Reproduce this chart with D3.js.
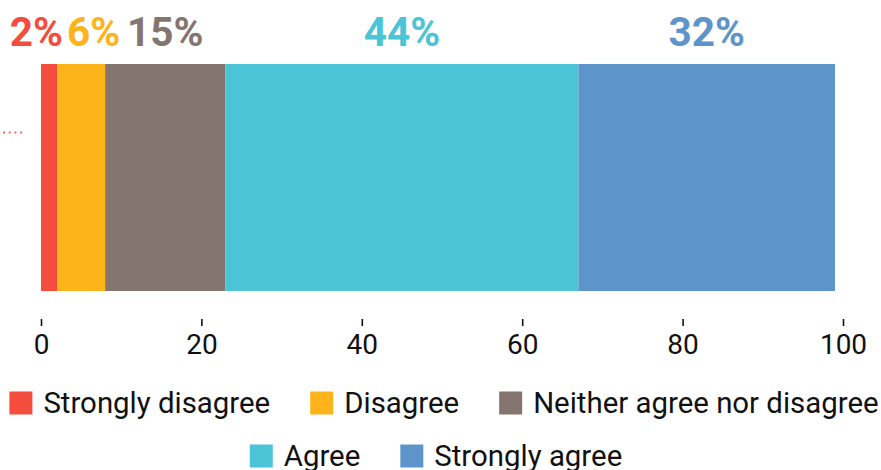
<!DOCTYPE html>
<html>
<head>
<meta charset="utf-8">
<script src="https://cdn.jsdelivr.net/npm/d3@7"></script>
<style>
  html, body { margin: 0; padding: 0; background: #fff; }
  svg { display: block; font-family: Roboto, "Noto Sans", sans-serif; }
</style>
</head>
<body>
<svg id="chart" width="881" height="470"></svg>
<script>
// Survey response shares (percent) for a single question
const rows = ["Response"];
const categories = ["Strongly disagree", "Disagree", "Neither agree nor disagree", "Agree", "Strongly agree"];
const values = [2, 6, 15, 44, 32];
const colors = ["#F44C3D", "#FDB31A", "#857571", "#4CC4D7", "#5D95CB"];
const tickValues = [0, 20, 40, 60, 80, 100];
const legendRows = [[0, 1, 2], [3, 4]];

const svg = d3.select("#chart");

const x = d3.scaleLinear().domain([0, 100]).range([41, 843]);
const y = d3.scaleBand().domain(rows).range([64, 291]).padding(0);

// Cumulative stacking of the segments
const stacked = [];
let acc = 0;
values.forEach((v, i) => {
  stacked.push({ key: categories[i], value: v, x0: acc, x1: acc + v, color: colors[i] });
  acc += v;
});

// Bar segments
svg.append("g")
  .selectAll("rect")
  .data(stacked)
  .join("rect")
  .attr("x", d => x(d.x0))
  .attr("y", y(rows[0]))
  .attr("width", d => x(d.x1) - x(d.x0))
  .attr("height", y.bandwidth())
  .attr("fill", d => d.color);

// Row marker on the left
svg.append("line")
  .attr("x1", 3).attr("x2", 25)
  .attr("y1", 132.5).attr("y2", 132.5)
  .attr("stroke", colors[0])
  .attr("stroke-opacity", 0.85)
  .attr("stroke-width", 2)
  .attr("stroke-dasharray", "2,3.7");

// Percentage labels above each segment, nudged apart when they collide
const labels = svg.append("g")
  .selectAll("text")
  .data(stacked)
  .join("text")
  .attr("y", 46)
  .attr("text-anchor", "middle")
  .attr("font-size", 40.5)
  .attr("font-weight", 700)
  .attr("fill", d => d.color)
  .text(d => d.value + "%");

const items = [];
labels.each(function (d) {
  items.push({ node: this, cx: x((d.x0 + d.x1) / 2), w: this.getComputedTextLength() });
});
const gap = 4;
for (let iter = 0; iter < 50; iter++) {
  let moved = false;
  for (let i = 0; i < items.length - 1; i++) {
    const a = items[i], b = items[i + 1];
    const need = a.w / 2 + b.w / 2 + gap;
    const have = b.cx - a.cx;
    if (have < need - 0.01) {
      const push = (need - have) / 2;
      a.cx -= push; b.cx += push;
      moved = true;
    }
  }
  if (!moved) break;
}
items.forEach(it => d3.select(it.node).attr("x", it.cx));

// X axis
const axis = svg.append("g")
  .attr("transform", "translate(0,319)")
  .call(d3.axisBottom(x).tickValues(tickValues).tickSize(7).tickPadding(8));
axis.select(".domain").remove();
axis.selectAll(".tick line").attr("stroke", "#111").attr("stroke-width", 1.6);
axis.selectAll(".tick text")
  .attr("font-family", "Roboto, sans-serif")
  .attr("font-size", 28)
  .attr("fill", "#111");

// Legend, two centred rows
const legend = svg.append("g").attr("font-size", 29.4);
const sw = 23, swGap = 11, itemGap = 40;
const rowCenters = [444, 436];
legendRows.forEach((row, r) => {
  const cy = 403 + r * 53;
  const g = legend.append("g");
  let cur = 0;
  row.forEach((ci, k) => {
    const item = g.append("g").attr("transform", `translate(${cur},0)`);
    item.append("rect")
      .attr("x", 0).attr("y", cy - sw / 2)
      .attr("width", sw).attr("height", sw)
      .attr("fill", colors[ci]);
    const t = item.append("text")
      .attr("x", sw + swGap)
      .attr("y", cy)
      .attr("dy", "0.35em")
      .attr("fill", "#111")
      .text(categories[ci]);
    cur += sw + swGap + t.node().getComputedTextLength() + (k < row.length - 1 ? itemGap : 0);
  });
  g.attr("transform", `translate(${rowCenters[r] - cur / 2},0)`);
});
</script>
</body>
</html>
